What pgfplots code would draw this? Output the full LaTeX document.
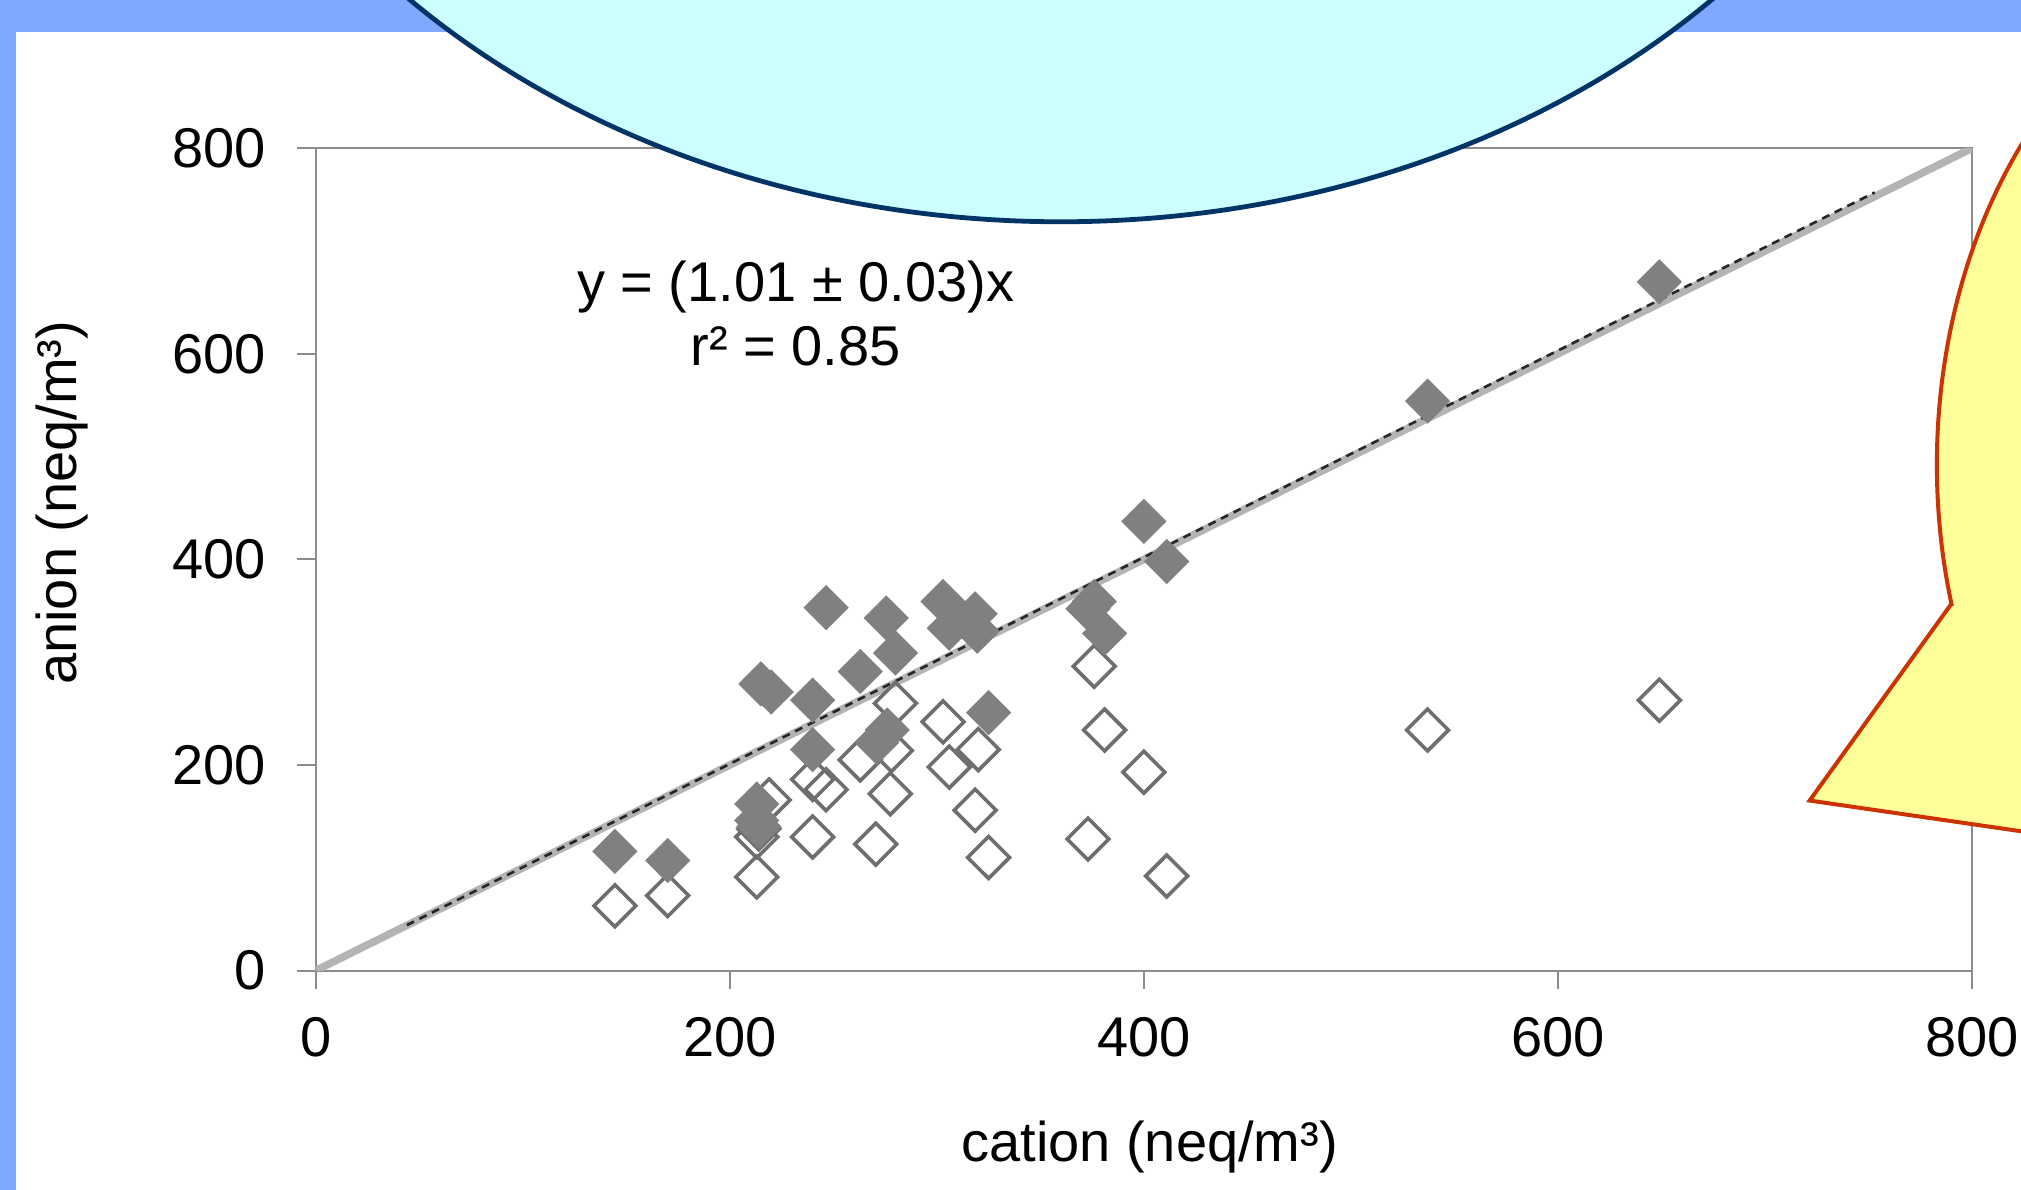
\documentclass[border=0pt]{standalone}
\usepackage{fontspec}
\setmainfont{Liberation Sans}
\usepackage{pgfplots}
\usepackage{pgfplotstable}
\pgfplotsset{compat=1.18}
\definecolor{bgblue}{HTML}{80A8FF}
\definecolor{axgray}{HTML}{8C8C8C}
\definecolor{mkgray}{HTML}{808080}
\definecolor{mkedge}{HTML}{6E6E6E}
\definecolor{oneone}{HTML}{B4B4B4}
\definecolor{cyanfill}{HTML}{CCFFFF}
\definecolor{navy}{HTML}{003366}
\definecolor{yelfill}{HTML}{FFFF99}
\definecolor{redline}{HTML}{CC3300}

\pgfplotstableread{
x y
144.5 116
170 107
213 162
213 146
214 140
215 279
220 271
240 263
240 215
246.5 353
263 291
271 222
276 234
275.5 343
280 309
303 359
306 333
318.5 347
319.5 330
325 251
376 359
373 352
381 328
400 437
411 398
537 554
649 670
}\filledset

\pgfplotstableread{
x y
144.5 63
170 73
213 91
213 130
214 138
219 166
240 130
240 186
246.5 176
263 205
270.5 123
277.5 172
278 214
280 260
303 242
306 198
318.5 156
320 215
325 110
373 128
376 296
381 234
400 193
411 92
537 234
649 263
}\openset

\begin{document}
\begin{tikzpicture}
\path[use as bounding box] (-78.95pt,-54.78pt) rectangle (426.35pt,242.66pt);
\fill[bgblue] (-78.95pt,-54.78pt) rectangle (426.35pt,242.66pt);
\fill[white] (-74.95pt,-54.78pt) rectangle (426.35pt,234.66pt);
\begin{axis}[
  at={(0pt,0pt)}, anchor=south west,
  scale only axis, width=414.1pt, height=205.6pt,
  xmin=0, xmax=800, ymin=0, ymax=800,
  xtick={0,200,...,800}, ytick={0,200,...,800},
  tick align=outside, tick pos=left,
  major tick length=4.6pt,
  axis line style={axgray, line width=0.5pt},
  major tick style={axgray, line width=0.5pt},
  tick label style={font=\fontsize{14}{16}\selectfont, /pgf/number format/assume math mode=true},
  xticklabel style={yshift=-3.7pt},
  yticklabel style={xshift=-4.4pt},
  label style={font=\fontsize{14}{16}\selectfont},
  xlabel={cation (neq/m³)},
  ylabel={anion (neq/m³)},
  xlabel style={at={(axis description cs:0.5035,-0.2145)}, anchor=center},
  ylabel style={at={(axis description cs:-0.1533,0.569)}, anchor=center},
]
\addplot[only marks, mark=square, mark size=3.7pt, mark options={rotate=45, draw=mkedge, line width=0.9pt}] table {\openset};
\addplot[only marks, mark=square*, mark size=3.8pt, mark options={rotate=45, draw=mkgray, fill=mkgray}] table {\filledset};
\addplot[oneone, line width=1.9pt] coordinates {(0,0) (800,800)};
\addplot[black!85, line width=0.65pt, dash pattern=on 2pt off 1.5pt] coordinates {(44,44.2) (753,757)};
\node[align=center, font=\fontsize{14}{16}\selectfont] at (axis cs:231.8,639.3) {y = (1.01 ± 0.03)x\\r² = 0.85};
\end{axis}
\begin{scope}
\clip (-78.95pt,-54.78pt) rectangle (426.35pt,242.66pt);
\filldraw[fill=cyanfill, draw=navy, line width=1.2pt] (186.27pt,366.41pt) ellipse [x radius=224.9pt, y radius=179.2pt];
\filldraw[fill=yelfill, draw=redline, line width=1pt, line join=miter] (408.8pt,91.5pt) -- (373.5pt,42.5pt) -- (435.5pt,33.5pt) arc[start angle=226.8, end angle=555.9, x radius=95.7pt, y radius=127.6pt] -- cycle;
\end{scope}
\end{tikzpicture}
\end{document}
